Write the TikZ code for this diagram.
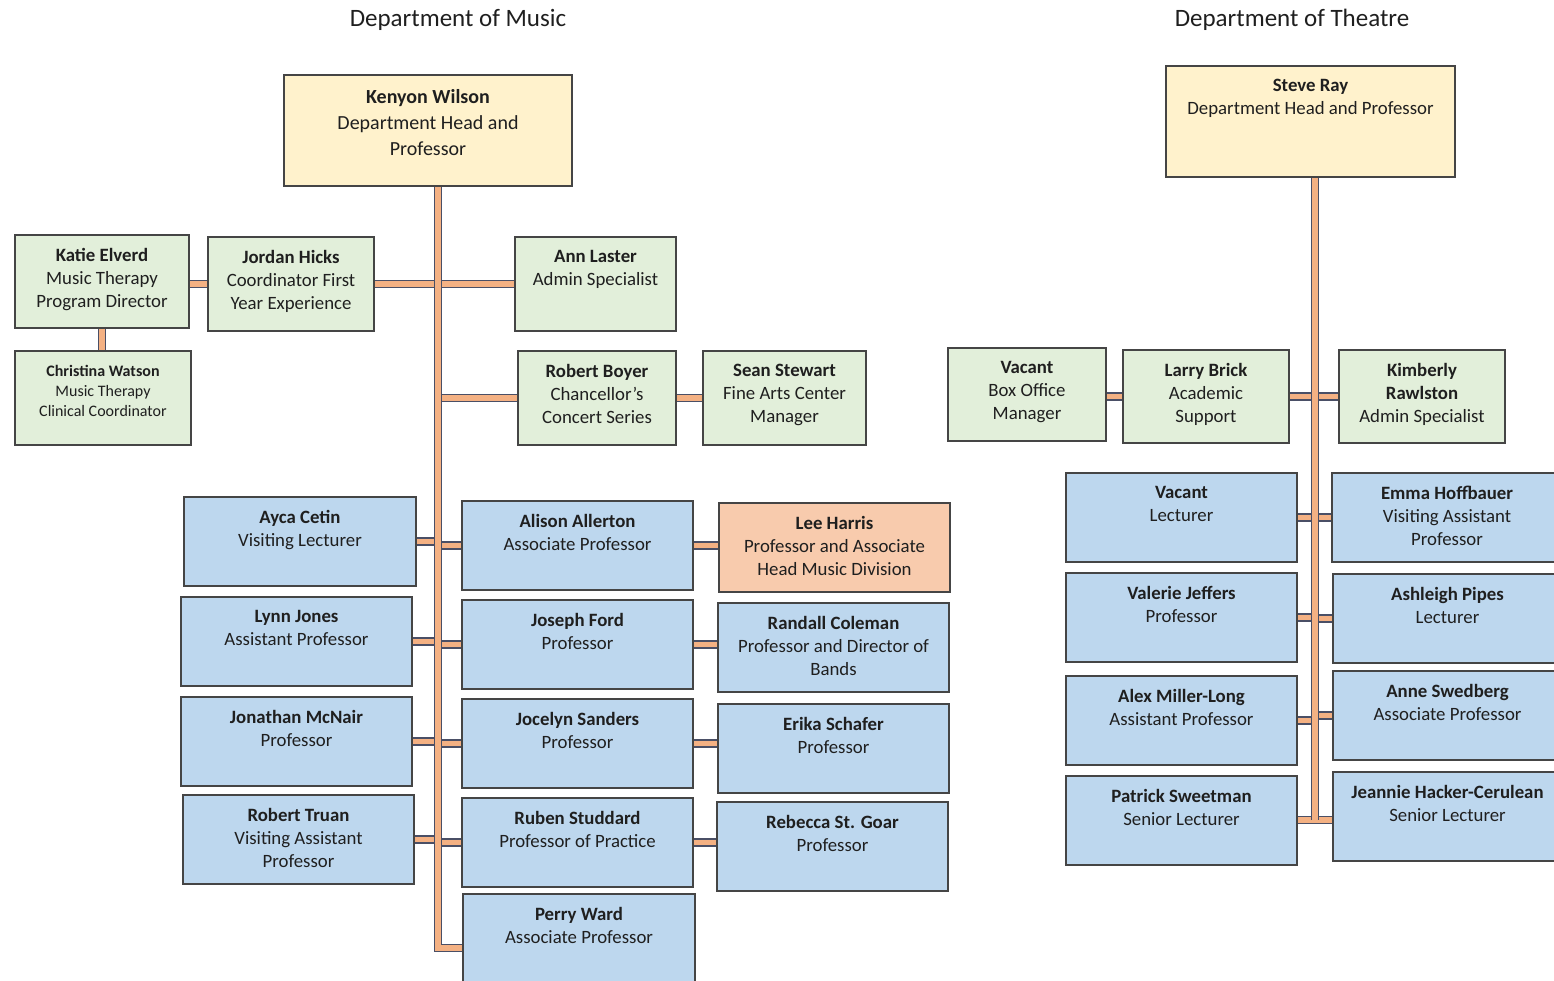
\documentclass[tikz,border=0pt]{standalone}
\usepackage{fontspec}
\setmainfont{Carlito}
\usetikzlibrary{fit,backgrounds}
\definecolor{ink}{HTML}{1F1F1F}
\definecolor{edge}{HTML}{454545}
\definecolor{headfill}{HTML}{FFF2CC}
\definecolor{stafffill}{HTML}{E2EFDA}
\definecolor{facfill}{HTML}{BDD7EE}
\definecolor{chairfill}{HTML}{F8CBAD}
\definecolor{barfill}{HTML}{F4B183}
\definecolor{baredge}{HTML}{4A4F66}
\tikzset{
  box/.style={draw=edge, line width=1.3pt, inner sep=0pt},
  head/.style={box, fill=headfill},
  staff/.style={box, fill=stafffill},
  faculty/.style={box, fill=facfill},
  chair/.style={box, fill=chairfill},
  cardtext/.style={anchor=north, align=center, inner sep=0pt, text=ink,
    font=\fontsize{18.8}{23}\selectfont, execute at begin node=\strut},
  bar/.style={draw=baredge, double=barfill, line width=1.3pt, double distance=5.5pt},
  title/.style={font=\fontsize{25}{30}\selectfont, text=ink}
}
% \card[text options]{name}{style}{top-left}{bottom-right}{lines}
\newcommand\card[6][]{%
  \node[#3, fit={(#4) (#5)}] (#2) {};
  \node[cardtext,yshift=-13.5pt,#1] (#2-text) at (#2.north) {#6};}
\begin{document}
\begin{tikzpicture}[x=1pt,y=-1pt]
\useasboundingbox (0,0) rectangle (1554,981);

% titles
\node[title] (musictitle) at (458,20) {Department of Music};
\node[title] (theatretitle) at (1292,20) {Department of Theatre};

% ---------------- Department of Music ----------------
\card[font=\fontsize{20}{26}\selectfont,yshift=-1pt]{kenyon}{head}{284,75}{572,186}{\textbf{Kenyon Wilson}\\Department Head and\\Professor}
\card{katie}{staff}{15,235}{189,328}{\textbf{Katie Elverd}\\Music Therapy\\Program Director}
\card{jordan}{staff}{208,237}{374,331}{\textbf{Jordan Hicks}\\Coordinator First\\Year Experience}
\card{ann}{staff}{515,237}{676,331}{\textbf{Ann Laster}\\Admin Specialist}
\card[font=\fontsize{16}{20}\selectfont,yshift=-1pt]{christina}{staff}{15,351}{191,445}{\textbf{Christina Watson}\\Music Therapy\\Clinical Coordinator}
\card{boyer}{staff}{518,351}{676,445}{\textbf{Robert Boyer}\\Chancellor’s\\Concert Series}
\card{sean}{staff}{703,351}{866,445}{\textbf{Sean Stewart}\\Fine Arts Center\\Manager}

\card{ayca}{faculty}{184,497}{416,586}{\textbf{Ayca Cetin}\\Visiting Lecturer}
\card{alison}{faculty}{462,501}{693,590}{\textbf{Alison Allerton}\\Associate Professor}
\card{lee}{chair}{719,503}{950,592}{\textbf{Lee Harris}\\Professor and Associate\\Head Music Division}

\card{lynn}{faculty}{181,597}{412,686}{\textbf{Lynn Jones}\\Assistant Professor}
\card{ford}{faculty}{462,600}{693,689}{\textbf{Joseph Ford}\\Professor}
\card{coleman}{faculty}{718,603}{949,692}{\textbf{Randall Coleman}\\Professor and Director of\\Bands}

\card{mcnair}{faculty}{181,697}{412,786}{\textbf{Jonathan McNair}\\Professor}
\card{sanders}{faculty}{462,699}{693,788}{\textbf{Jocelyn Sanders}\\Professor}
\card{schafer}{faculty}{718,704}{949,793}{\textbf{Erika Schafer}\\Professor}

\card{truan}{faculty}{183,795}{414,884}{\textbf{Robert Truan}\\Visiting Assistant\\Professor}
\card{studdard}{faculty}{462,798}{693,887}{\textbf{Ruben Studdard}\\Professor of Practice}
\card{stgoar}{faculty}{717,802}{948,891}{\textbf{Rebecca St. Goar}\\Professor}

\card{ward}{faculty}{463,894}{695,995}{\textbf{Perry Ward}\\Associate Professor}

% ---------------- Department of Theatre ----------------
\card{ray}{head}{1166,66}{1455,177}{\textbf{Steve Ray}\\Department Head and Professor}
\card{vacantbo}{staff}{948,348}{1106,441}{\textbf{Vacant}\\Box Office\\Manager}
\card{brick}{staff}{1123,350}{1289,443}{\textbf{Larry Brick}\\Academic\\Support}
\card{rawlston}{staff}{1339,350}{1505,443}{\textbf{Kimberly}\\\textbf{Rawlston}\\Admin Specialist}

\card{vacantlec}{faculty}{1066,473}{1297,562}{\textbf{Vacant}\\Lecturer}
\card{hoffbauer}{faculty}{1332,473}{1562,562}{\textbf{Emma Hoffbauer}\\Visiting Assistant\\Professor}
\card{jeffers}{faculty}{1066,573}{1297,662}{\textbf{Valerie Jeffers}\\Professor}
\card{pipes}{faculty}{1333,574}{1562,663}{\textbf{Ashleigh Pipes}\\Lecturer}
\card{millerlong}{faculty}{1066,676}{1297,765}{\textbf{Alex Miller-Long}\\Assistant Professor}
\card{swedberg}{faculty}{1333,671}{1562,760}{\textbf{Anne Swedberg}\\Associate Professor}
\card{sweetman}{faculty}{1066,776}{1297,865}{\textbf{Patrick Sweetman}\\Senior Lecturer}
\card{hacker}{faculty}{1333,772}{1562,861}{\textbf{Jeannie Hacker-Cerulean}\\Senior Lecturer}

% ---------------- connectors ----------------
\coordinate (mend) at (438,948);
\coordinate (tend) at (1315,820);
\begin{pgfonlayer}{background}
  % music branches
  \draw[bar] (katie.east |- jordan.west) -- (jordan.west);
  \draw[bar] (katie.south) -- (katie.south |- christina.north);
  \draw[bar] (jordan.east) -- (ann.west);
  \draw[bar] (mend |- boyer.west) -- (boyer.west);
  \draw[bar] (boyer.east) -- (sean.west);
  \foreach \l/\m/\r in {ayca/alison/lee, lynn/ford/coleman, mcnair/sanders/schafer, truan/studdard/stgoar}{
    \draw[bar] (\l.east) -- (\l.east -| mend);
    \draw[bar] (mend |- \m.west) -- (\m.west);
    \draw[bar] (\m.east) -- (\r.west |- \m.east);
  }
  % music trunk
  \draw[bar] (kenyon.south -| mend) -- (mend) -- (mend -| ward.west);
  % theatre branches
  \draw[bar] (vacantbo.east |- brick.west) -- (brick.west);
  \draw[bar] (brick.east) -- (brick.east -| tend);
  \draw[bar] (tend |- rawlston.west) -- (rawlston.west);
  \foreach \l/\r in {vacantlec/hoffbauer, jeffers/pipes, millerlong/swedberg}{
    \draw[bar] (\l.east) -- (\l.east -| tend);
    \draw[bar] (tend |- \r.west) -- (\r.west);
  }
  \draw[bar] (sweetman.east |- tend) -- (tend);
  \draw[bar] (tend) -- (hacker.west |- tend);
  % theatre trunk
  \draw[bar] (ray.south -| tend) -- (tend);
\end{pgfonlayer}
\end{tikzpicture}
\end{document}
